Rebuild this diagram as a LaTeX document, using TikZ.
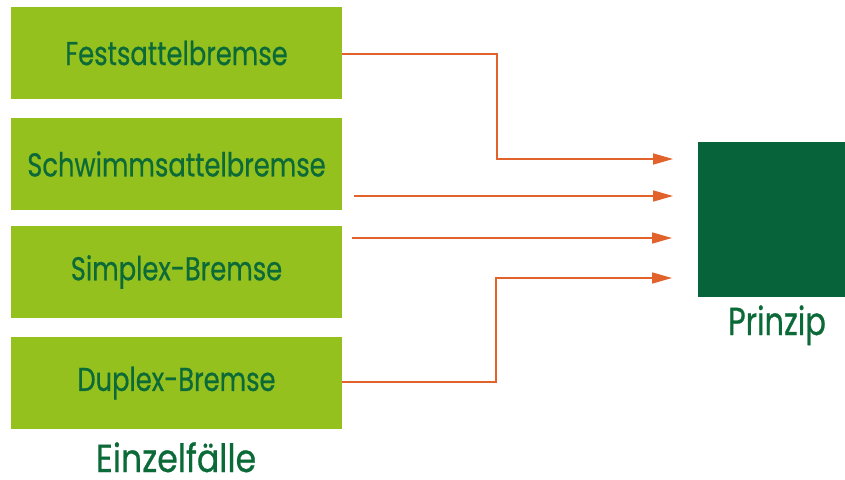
\documentclass[tikz,border=0pt]{standalone}
\usepackage{fontspec}
\usepackage{graphicx}
\setmainfont{Poppins}[FakeBold=0.7]
\usetikzlibrary{arrows.meta}
\definecolor{lgreen}{HTML}{95C11F}
\definecolor{dgreen}{HTML}{07643A}
\definecolor{tgreen}{HTML}{0B6A37}
\definecolor{arr}{HTML}{E2622B}
\newcommand\hsc[2][0.78]{\scalebox{#1}[1]{#2}}
\tikzset{
  case/.style={fill=lgreen, draw=none, minimum width=331pt, minimum height=92pt, inner sep=0pt,
    text=tgreen, font=\fontsize{33}{34}\selectfont},
  caption/.style={text=tgreen, font=\fontsize{39}{40}\selectfont, anchor=base, inner sep=0pt, text depth=0pt},
  link/.style={draw=arr, line width=1.7pt, -{Triangle[length=20pt,width=11pt]}}
}
\begin{document}
\begin{tikzpicture}[x=1pt,y=-1pt]
\useasboundingbox (0,0) rectangle (845,479);
\node[case] (b1) at (176.5,53) {\hsc{Festsattelbremse}};
\node[case] (b2) at (176.5,164) {\hsc{Schwimmsattelbremse}};
\node[case] (b3) at (176.5,272) {\hsc{Simplex-Bremse}};
\node[case] (b4) at (176.5,383) {\hsc{Duplex-Bremse}};
\node[caption] (ein) at (176,472) {\hsc[0.85]{Einzelfälle}};
\node[fill=dgreen, minimum width=147pt, minimum height=155pt, inner sep=0pt] (p) at (771.5,219.5) {};
\node[caption] (pt) at (777,335) {\hsc{Prinzip}};
\coordinate (e1) at (673,159);
\coordinate (e2) at (673,196);
\coordinate (e3) at (672,238);
\coordinate (e4) at (672,278);
\coordinate (s2) at (354,196);
\coordinate (s3) at (352,238);
\draw[link] (b1.east |- 0,54) -- (497,54) -- (497,159) -- (e1);
\draw[link] (s2) -- (e2);
\draw[link] (s3) -- (e3);
\draw[link] (b4.east |- 0,382) -- (496,382) -- (496,278) -- (e4);
\end{tikzpicture}
\end{document}
